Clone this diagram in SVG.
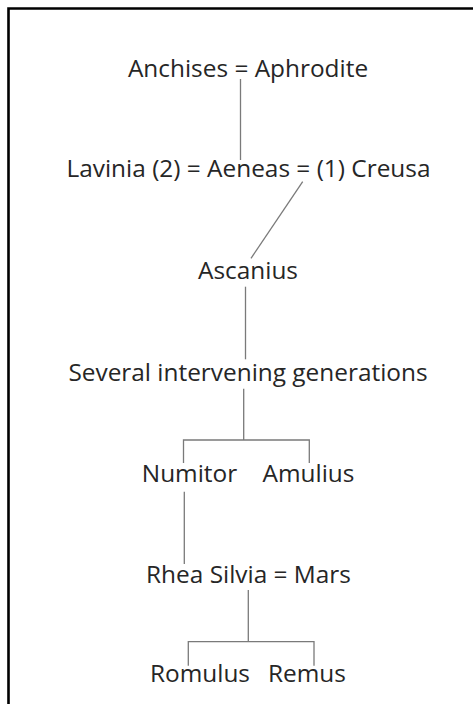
<svg xmlns="http://www.w3.org/2000/svg" width="473" height="704" viewBox="0 0 473 704">
<style>
.t{font-family:"Open Sans","Liberation Sans",sans-serif;font-size:24.4px;fill:#262626;text-anchor:middle}
.c{stroke:#7a7a7a;stroke-width:1.3;fill:none}
</style>
<rect width="473" height="704" fill="#fff"/>
<path d="M8.5,704 V8.5 H473" fill="none" stroke="#000" stroke-width="2.6"/>
<g id="connectors">
<path class="c" d="M240.5,79 V160"/>
<path class="c" d="M302.7,181.7 L251,258.3"/>
<path class="c" d="M245.5,286.7 V359.3"/>
<path class="c" d="M243.7,388.7 V440 M183.5,463 V440 H309.3 V463"/>
<path class="c" d="M184.3,491.7 V564"/>
<path class="c" d="M248.3,590 V641.7 M188.3,665.7 V641.7 H314 V665.7"/>
</g>
<g id="anchises-aphrodite"><text class="t" x="248" y="77.3">Anchises = Aphrodite</text></g>
<g id="aeneas"><text class="t" x="248.5" y="177">Lavinia (2) = Aeneas = (1) Creusa</text></g>
<g id="ascanius"><text class="t" x="248" y="279.3">Ascanius</text></g>
<g id="several"><text class="t" x="248" y="380.7">Several intervening generations</text></g>
<g id="numitor"><text class="t" x="189.5" y="481.7">Numitor</text></g>
<g id="amulius"><text class="t" x="308.5" y="481.7">Amulius</text></g>
<g id="rhea-mars"><text class="t" x="248.5" y="583.3">Rhea Silvia = Mars</text></g>
<g id="romulus"><text class="t" x="200" y="682.3">Romulus</text></g>
<g id="remus"><text class="t" x="307" y="682.3">Remus</text></g>
</svg>
